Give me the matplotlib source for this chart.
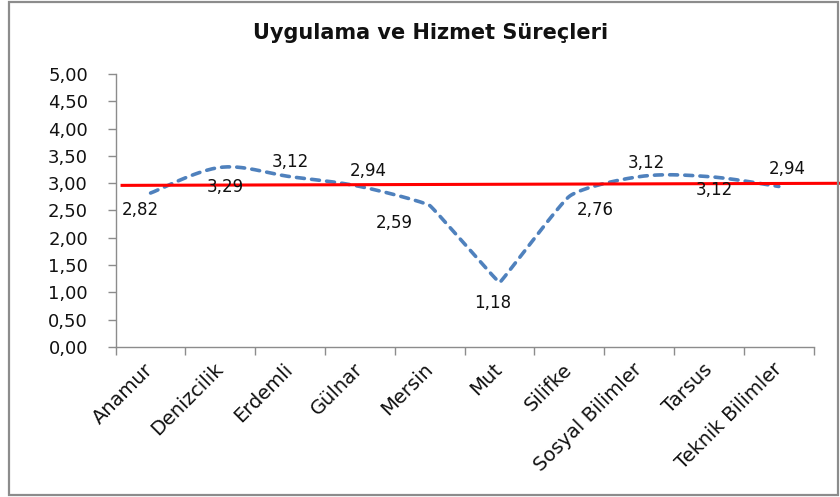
import matplotlib
matplotlib.use("Agg")
import matplotlib.pyplot as plt
import numpy as np
from matplotlib.patches import Rectangle

title = "Uygulama ve Hizmet Süreçleri"
categories = ["Anamur", "Denizcilik", "Erdemli", "Gülnar", "Mersin", "Mut",
              "Silifke", "Sosyal Bilimler", "Tarsus", "Teknik Bilimler"]
values = [2.82, 3.29, 3.12, 2.94, 2.59, 1.18, 2.76, 3.12, 3.12, 2.94]
value_labels = ["2,82", "3,29", "3,12", "2,94", "2,59", "1,18", "2,76", "3,12", "3,12", "2,94"]
ref_line = [2.96, 3.00]
y_ticks = [0, 0.5, 1, 1.5, 2, 2.5, 3, 3.5, 4, 4.5, 5]
y_tick_labels = ["0,00", "0,50", "1,00", "1,50", "2,00", "2,50", "3,00", "3,50", "4,00", "4,50", "5,00"]

# style: label offsets in pixels (dx, dy) and per-point smoothing factors
label_offsets = [(-10, -17), (5, -20), (0, 15), (8, 15), (-36, -17),
                 (-7, -20), (26, -14), (7, 14), (5, -13), (8, 17)]
smooth_factor = [1.0, 1.0, 1.0, 1.0, 0.2, 0.08, 0.45, 1.0, 1.0, 1.0]

fig = plt.figure(figsize=(8.4, 4.97), dpi=100)
fig.patch.set_facecolor("white")
fig.add_artist(Rectangle((0.011, 0.005), 0.987, 0.990, transform=fig.transFigure,
                         fill=False, edgecolor="#8c8c8c", linewidth=1.6))

ax = fig.add_axes([0.1377, 0.302, 0.831, 0.549])

x = np.arange(len(values), dtype=float)
y = np.array(values, dtype=float)

# Excel-like smoothed curve (Bezier through points)
pts = np.column_stack([x, y])
n = len(pts)
tangents = []
for i in range(n):
    p0 = pts[i - 1] if i > 0 else pts[i]
    p2 = pts[i + 1] if i + 1 < n else pts[i]
    tangents.append((p2 - p0) / 6.0 * smooth_factor[i])
curve = []
for i in range(n - 1):
    p1, p2 = pts[i], pts[i + 1]
    c1 = p1 + tangents[i]
    c2 = p2 - tangents[i + 1]
    t = np.linspace(0, 1, 60)[:, None]
    seg = ((1 - t) ** 3) * p1 + 3 * ((1 - t) ** 2) * t * c1 + 3 * (1 - t) * t ** 2 * c2 + t ** 3 * p2
    if i > 0:
        seg = seg[1:]
    curve.append(seg)
curve = np.vstack(curve)

ax.plot(curve[:, 0], curve[:, 1], color="#4F81BD", linewidth=2.6,
        linestyle=(0, (2.2, 2.0)), dash_capstyle="round", zorder=3)

ax.plot([-0.43, 10.37], ref_line, color="#FF0000", linewidth=2.2,
        zorder=4, clip_on=False, solid_capstyle="butt")

for xi, yi, lab, (dx, dy) in zip(x, y, value_labels, label_offsets):
    ax.annotate(lab, (xi, yi), xytext=(dx, dy), textcoords="offset pixels",
                ha="center", va="center", fontsize=12, color="#111111", zorder=5)

ax.set_xlim(-0.5, len(values) - 0.5)
ax.set_ylim(0, 5)
ax.set_yticks(y_ticks)
ax.set_yticklabels(y_tick_labels, fontsize=13, color="#111111")
ax.set_xticks(x)
ax.set_xticklabels(categories, rotation=45, ha="right", va="center",
                   fontsize=14, color="#111111", rotation_mode="anchor")
ax.set_xticks(np.arange(-0.5, len(values), 1.0), minor=True)
ax.tick_params(axis="x", which="major", length=0, pad=14)
ax.tick_params(axis="x", which="minor", length=6, color="#8c8c8c", width=1, direction="out")
ax.tick_params(axis="y", length=6, color="#8c8c8c", width=1, direction="out", pad=14)

for s in ["top", "right"]:
    ax.spines[s].set_visible(False)
for s in ["left", "bottom"]:
    ax.spines[s].set_color("#8c8c8c")
    ax.spines[s].set_linewidth(1)

fig.text(0.512, 0.933, title, ha="center", va="center", fontsize=15,
         fontweight="bold", color="#111111")

fig.savefig("out.png", dpi=100, facecolor="white")
